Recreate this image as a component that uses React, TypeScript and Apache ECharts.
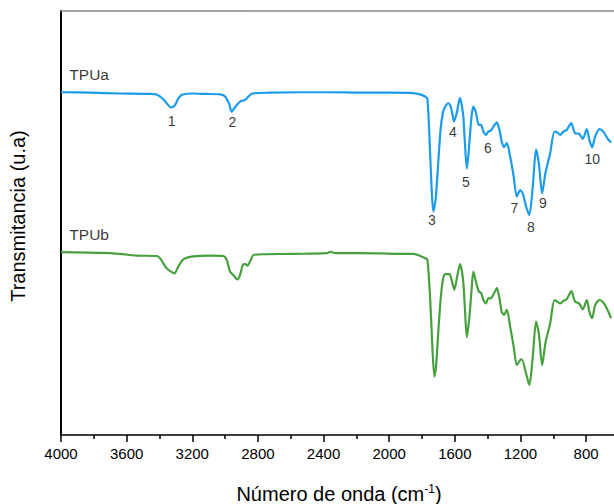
import React, { useEffect, useRef } from "react";
import * as echarts from "echarts";

// TPUa spectrum (wavenumber cm-1, transmittance a.u.)
const tpuaWn = [4000, 3823, 3640, 3458, 3415, 3378, 3354, 3330, 3305, 3287, 3263, 3195, 3122, 3031, 3000, 2976, 2960, 2939, 2909, 2879, 2860, 2836, 2726, 2543, 2360, 2178, 1995, 1855, 1812, 1781, 1767, 1754, 1741, 1731, 1717, 1702, 1687, 1673, 1659, 1639, 1625, 1614, 1605, 1588, 1577, 1568, 1558, 1548, 1538, 1527, 1517, 1507, 1497, 1487, 1471, 1454, 1440, 1426, 1410, 1396, 1381, 1365, 1344, 1328, 1314, 1300, 1283, 1263, 1243, 1222, 1202, 1186, 1166, 1146, 1125, 1105, 1088, 1068, 1048, 1019, 993, 975, 958, 938, 918, 891, 867, 843, 820, 796, 780, 763, 745, 719, 695, 670, 648];
const tpuaT = [81.0, 80.9, 80.7, 80.6, 80.4, 79.4, 78.3, 77.4, 78.0, 79.4, 80.4, 80.7, 80.6, 80.5, 80.0, 78.3, 76.4, 77.5, 78.8, 79.2, 79.9, 80.7, 80.9, 81.0, 81.0, 80.9, 80.9, 80.8, 80.5, 80.0, 79.4, 69.7, 57.9, 52.8, 55.6, 63.8, 72.1, 76.1, 77.6, 78.4, 77.6, 75.7, 74.1, 76.1, 78.5, 79.6, 78.0, 75.2, 68.6, 63.0, 66.2, 71.3, 75.7, 77.6, 76.1, 73.3, 73.3, 71.7, 70.9, 71.7, 71.9, 72.9, 73.9, 72.1, 69.3, 68.0, 69.0, 65.8, 61.5, 56.3, 57.9, 57.1, 54.0, 52.0, 58.7, 67.5, 64.2, 57.1, 61.9, 66.6, 71.7, 71.5, 70.9, 71.7, 72.1, 73.7, 71.3, 71.2, 70.0, 72.3, 69.7, 68.0, 70.5, 72.3, 71.7, 70.1, 69.1];

// TPUb spectrum
const tpubWn = [4000, 3701, 3640, 3539, 3417, 3397, 3356, 3309, 3285, 3255, 3194, 3092, 3011, 2990, 2970, 2950, 2925, 2909, 2892, 2877, 2864, 2848, 2824, 2584, 2380, 2356, 2330, 2177, 1934, 1853, 1781, 1767, 1751, 1739, 1725, 1714, 1700, 1687, 1673, 1659, 1633, 1619, 1603, 1584, 1568, 1558, 1548, 1538, 1527, 1511, 1498, 1487, 1471, 1454, 1440, 1426, 1410, 1396, 1381, 1361, 1344, 1328, 1314, 1300, 1283, 1263, 1243, 1222, 1202, 1192, 1166, 1146, 1125, 1105, 1088, 1068, 1048, 1019, 993, 975, 958, 938, 918, 890, 867, 843, 820, 796, 780, 763, 745, 719, 695, 670, 648];
const tpubT = [43.2, 43.0, 42.8, 42.4, 42.3, 41.8, 39.4, 38.2, 39.8, 41.5, 42.2, 42.4, 42.3, 41.4, 38.6, 37.8, 36.8, 37.8, 40.2, 40.4, 40.0, 41.0, 42.6, 42.8, 43.0, 43.3, 43.0, 43.0, 42.8, 42.8, 41.8, 41.4, 32.7, 22.5, 13.8, 16.5, 24.8, 31.9, 36.6, 38.0, 38.0, 36.6, 34.3, 37.8, 40.4, 39.0, 35.9, 29.6, 23.1, 28.0, 34.3, 38.6, 36.2, 33.9, 33.6, 31.9, 31.1, 32.3, 32.3, 33.5, 34.7, 32.3, 29.1, 28.4, 29.6, 25.6, 21.3, 16.5, 17.7, 17.9, 14.6, 11.8, 18.5, 26.8, 24.0, 16.5, 21.7, 26.4, 31.9, 31.5, 31.1, 31.7, 32.1, 34.0, 31.5, 31.1, 29.7, 31.9, 29.1, 27.6, 30.7, 31.9, 31.3, 29.6, 27.6];

// Peak annotations
const peakNames = ["1", "2", "3", "4", "5", "6", "7", "8", "9", "10"];
const peakWn = [3325, 2956, 1740, 1612, 1533, 1399, 1237, 1137, 1064, 763];
const peakT = [74.1, 73.9, 50.8, 71.7, 59.9, 67.8, 53.6, 49.2, 54.9, 65.2];

// Series names and their label anchor
const seriesNames = ["TPUa", "TPUb"];
const seriesLabelWn = [3949, 3949];
const seriesLabelT = [85.1, 47.3];

// Axis ticks
const majorTicks = [4000, 3600, 3200, 2800, 2400, 2000, 1600, 1200, 800];
const minorTicks = [3800, 3400, 3000, 2600, 2200, 1800, 1400, 1000];

const FONT = "'Liberation Sans', Arial, Helvetica, sans-serif";

export default function App() {
  const ref = useRef<HTMLDivElement>(null);

  useEffect(() => {
    if (!ref.current) return;
    const chart = echarts.init(ref.current, null, { renderer: "svg" });
    const xCommon = {
      type: "value" as const,
      min: 630,
      max: 4000,
      inverse: true,
      splitLine: { show: false },
    };
    chart.setOption({
      animation: false,
      backgroundColor: "#ffffff",
      textStyle: { fontFamily: FONT },
      grid: { left: 61, right: 0, top: 11, bottom: 69, containLabel: false },
      xAxis: [
        {
          ...xCommon,
          position: "bottom",
          axisLine: { show: true, onZero: false, lineStyle: { color: "#000", width: 1.5 } },
          axisTick: { show: true, customValues: majorTicks, length: 7, lineStyle: { color: "#000", width: 1.5 } },
          axisLabel: {
            show: true,
            customValues: majorTicks,
            formatter: (v: number) => String(v),
            margin: 11,
            fontSize: 15,
            color: "#000",
            fontFamily: FONT,
          },
        },
        {
          ...xCommon,
          position: "bottom",
          axisLine: { show: false, onZero: false },
          axisTick: { show: true, customValues: minorTicks, length: 4, lineStyle: { color: "#000", width: 1.5 } },
          axisLabel: { show: false },
        },
        {
          ...xCommon,
          position: "top",
          axisLine: { show: true, onZero: false, lineStyle: { color: "#888", width: 1.5 } },
          axisTick: { show: false },
          axisLabel: { show: false },
        },
      ],
      yAxis: {
        type: "value",
        min: 0,
        max: 100.2,
        axisLine: { show: true, onZero: false, lineStyle: { color: "#000", width: 2 } },
        axisTick: { show: false },
        axisLabel: { show: false },
        splitLine: { show: false },
      },
      series: [
        {
          name: "TPUa",
          type: "line",
          xAxisIndex: 0,
          data: tpuaWn.map((w, i) => [w, tpuaT[i]]),
          showSymbol: false,
          smooth: 0.25,
          lineStyle: { color: "#1B9CEB", width: 2.2 },
          itemStyle: { color: "#1B9CEB" },
          z: 3,
        },
        {
          name: "TPUb",
          type: "line",
          xAxisIndex: 0,
          data: tpubWn.map((w, i) => [w, tpubT[i]]),
          showSymbol: false,
          smooth: 0.25,
          lineStyle: { color: "#46A03E", width: 2.2 },
          itemStyle: { color: "#46A03E" },
          z: 3,
        },
        {
          type: "scatter",
          xAxisIndex: 0,
          symbolSize: 1,
          itemStyle: { color: "rgba(0,0,0,0)" },
          data: peakNames.map((n, i) => ({ name: n, value: [peakWn[i], peakT[i]] })),
          label: {
            show: true,
            position: "inside",
            formatter: "{b}",
            fontSize: 14,
            color: "#000",
            fontFamily: FONT,
          },
          silent: true,
          z: 4,
        },
        {
          type: "scatter",
          xAxisIndex: 0,
          symbolSize: 1,
          itemStyle: { color: "rgba(0,0,0,0)" },
          data: seriesNames.map((n, i) => ({ name: n, value: [seriesLabelWn[i], seriesLabelT[i]] })),
          label: {
            show: true,
            position: "inside",
            align: "left",
            verticalAlign: "middle",
            formatter: "{b}",
            fontSize: 15.5,
            color: "#000",
            fontFamily: FONT,
          },
          silent: true,
          z: 4,
        },
      ],
      graphic: [
        {
          type: "text",
          x: 18,
          y: 216,
          rotation: Math.PI / 2,
          style: {
            text: "Transmitancia (u.a)",
            fontSize: 20,
            fontFamily: FONT,
            fill: "#000",
            align: "center",
            verticalAlign: "middle",
          },
        },
        {
          type: "text",
          x: 339,
          y: 494,
          style: {
            text: "{a|Número de onda (cm}{s|-1}{a|)}",
            align: "center",
            verticalAlign: "middle",
            fill: "#000",
            rich: {
              a: { fontSize: 20, fontFamily: FONT, fill: "#000", lineHeight: 22 },
              s: { fontSize: 12, fontFamily: FONT, fill: "#000", verticalAlign: "top", lineHeight: 22, padding: [0, 0, 8, 0] },
            },
          },
        },
      ],
    });
    return () => chart.dispose();
  }, []);

  return (
    <div
      ref={ref}
      style={{ position: "absolute", left: 0, top: 0, width: 614, height: 504 }}
    />
  );
}
